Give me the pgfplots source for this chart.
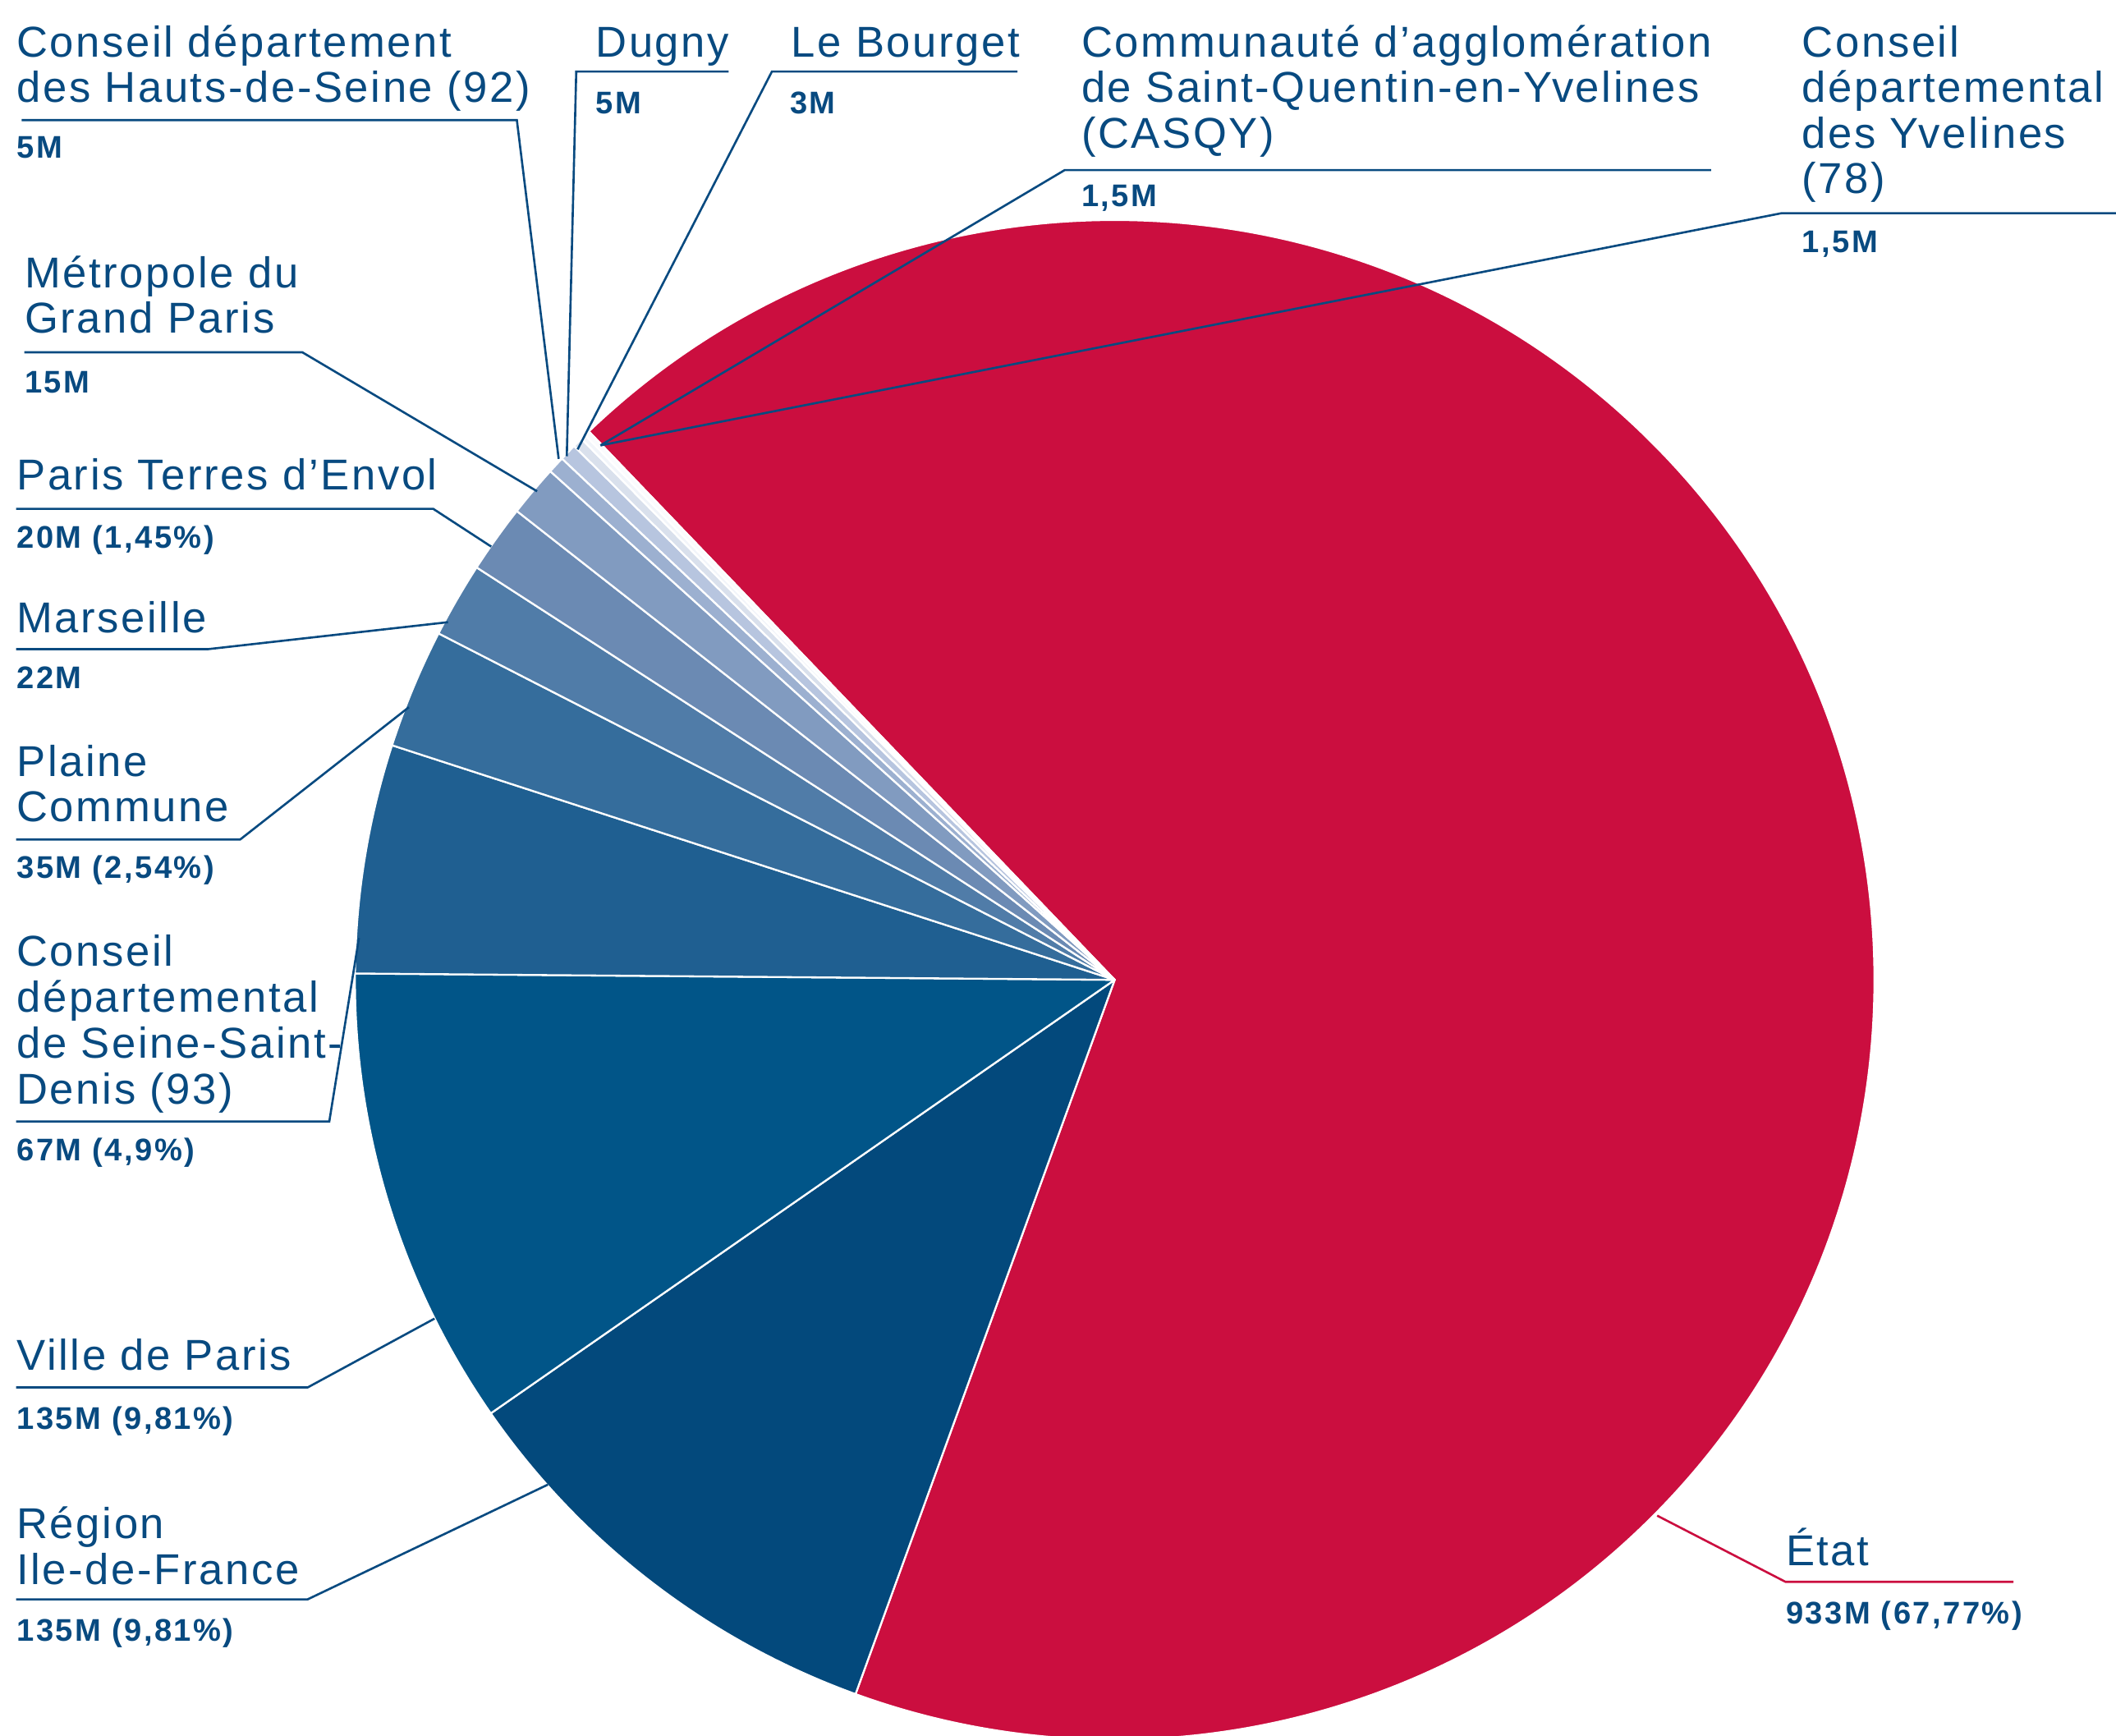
\documentclass[border=0pt]{standalone}
\usepackage{pgfplots}
\pgfplotsset{compat=1.18}
\usepackage{pgfplotstable}
\usepackage{fontspec}
\setmainfont{Liberation Sans}[LetterSpace=5]
\newfontfamily\valfam{Liberation Sans}[LetterSpace=6.5]
\definecolor{txt}{HTML}{084A80}
\definecolor{cEtat}{HTML}{CB0E3F}
\definecolor{cRegion}{HTML}{03497C}
\definecolor{cVille}{HTML}{015588}
\definecolor{cSSD}{HTML}{1F5F91}
\definecolor{cPlaine}{HTML}{356D9C}
\definecolor{cMars}{HTML}{507CA8}
\definecolor{cPTE}{HTML}{6B8AB3}
\definecolor{cMGP}{HTML}{819BC0}
\definecolor{cHDS}{HTML}{9CB0D0}
\definecolor{cDugny}{HTML}{B7C5DF}
\definecolor{cBourget}{HTML}{D9E0EC}
\definecolor{cCASQY}{HTML}{F2F5FA}
\definecolor{cYvel}{HTML}{FAFBFD}
\pgfplotstableread[col sep=comma]{
name,value,col
Etat,933,cEtat
Region,135,cRegion
Ville,135,cVille
CD93,67,cSSD
Plaine,35,cPlaine
Marseille,22,cMars
PTE,20,cPTE
MGP,15,cMGP
CD92,5,cHDS
Dugny,5,cDugny
Bourget,3,cBourget
CASQY,1.5,cCASQY
CD78,1.5,cYvel
}\pietable
\newcommand\namefont{\fontsize{16bp}{17bp}\selectfont}
\newcommand\valfont{\valfam\fontsize{11.6bp}{13bp}\selectfont\bfseries}
\newcommand\nm[3]{\node[anchor=base west, inner sep=0pt, text=txt, font=\namefont] at (axis cs:#1,#2) {#3};}
\newcommand\vl[3]{\node[anchor=base west, inner sep=0pt, text=txt, font=\valfont] at (axis cs:#1,#2) {#3};}
\begin{document}
\begin{tikzpicture}
\begin{axis}[hide axis, scale only axis, width=784bp, height=643bp,
  xmin=0, xmax=1568, ymin=0, ymax=1286, y dir=reverse, clip=true]
  \pgfplotstablegetrowsof{\pietable}
  \pgfmathtruncatemacro\nrows{\pgfplotsretval-1}
  \def\total{0}
  \pgfplotsforeachungrouped \i in {0,...,\nrows}{%
    \pgfplotstablegetelem{\i}{value}\of\pietable
    \pgfmathsetmacro\total{\total+\pgfplotsretval}}
  \def\cum{0}
  \pgfplotsforeachungrouped \i in {0,...,\nrows}{%
    \pgfplotstablegetelem{\i}{value}\of\pietable \let\sv\pgfplotsretval
    \pgfplotstablegetelem{\i}{col}\of\pietable \let\scol\pgfplotsretval
    \pgfmathsetmacro\sa{133.8-(\cum/\total)*360}
    \pgfmathsetmacro\cum{\cum+\sv}
    \pgfmathsetmacro\sb{133.8-(\cum/\total)*360}
    \edef\temp{\noexpand\fill[fill=\scol, draw=white, line width=0.7bp, line join=round] (axis cs:826,726) -- ++(\sa:281.5bp) arc[start angle=\sa, end angle=\sb, radius=281.5bp] -- cycle;}
    \temp
  }
  % leader lines
  \begin{scope}[draw=txt, line width=0.8bp]
  \draw (axis cs:16,89) -- (axis cs:383,89) -- (axis cs:414,340);
  \draw (axis cs:540,53) -- (axis cs:427,53) -- (axis cs:420,338);
  \draw (axis cs:754,53) -- (axis cs:572,53) -- (axis cs:428,333);
  \draw (axis cs:1268,126) -- (axis cs:789,126) -- (axis cs:445,330);
  \draw (axis cs:1568,158) -- (axis cs:1320,158) -- (axis cs:445,330);
  \draw (axis cs:18,261) -- (axis cs:224,261) -- (axis cs:398,364);
  \draw (axis cs:12,377) -- (axis cs:321,377) -- (axis cs:364,405);
  \draw (axis cs:12,481) -- (axis cs:154,481) -- (axis cs:332,461);
  \draw (axis cs:12,622) -- (axis cs:178,622) -- (axis cs:303,524);
  \draw (axis cs:12,831) -- (axis cs:244,831) -- (axis cs:266,695);
  \draw (axis cs:12,1028) -- (axis cs:228,1028) -- (axis cs:322,977);
  \draw (axis cs:12,1185) -- (axis cs:228,1185) -- (axis cs:406,1100);
  \end{scope}
  \draw[cEtat, line width=0.8bp] (axis cs:1492,1172) -- (axis cs:1323,1172) -- (axis cs:1228,1123);
  % labels
  \nm{12}{42}{Conseil département}
  \nm{12}{76}{des Hauts-de-Seine (92)}
  \vl{12}{117}{5M}
  \nm{441}{42}{Dugny}
  \vl{441}{84}{5M}
  \nm{586}{42}{Le Bourget}
  \vl{585}{84}{3M}
  \nm{801}{42}{Communauté d'agglomération}
  \nm{801}{76}{de Saint-Quentin-en-Yvelines}
  \nm{801}{110}{(CASQY)}
  \vl{801}{153}{1,5M}
  \nm{1335}{42}{Conseil}
  \nm{1335}{76}{départemental}
  \nm{1335}{110}{des Yvelines}
  \nm{1335}{143}{(78)}
  \vl{1335}{187}{1,5M}
  \nm{18}{213}{Métropole du}
  \nm{18}{247}{Grand Paris}
  \vl{18}{291}{15M}
  \nm{12}{363}{Paris Terres d'Envol}
  \vl{12}{406}{20M (1,45\%)}
  \nm{12}{469}{Marseille}
  \vl{12}{510}{22M}
  \nm{12}{575}{Plaine}
  \nm{12}{609}{Commune}
  \vl{12}{651}{35M (2,54\%)}
  \nm{12}{716}{Conseil}
  \nm{12}{750}{départemental}
  \nm{12}{784}{de Seine-Saint-}
  \nm{12}{818}{Denis (93)}
  \vl{12}{860}{67M (4,9\%)}
  \nm{12}{1015}{Ville de Paris}
  \vl{12}{1059}{135M (9,81\%)}
  \nm{12}{1140}{Région}
  \nm{12}{1174}{Ile-de-France}
  \vl{12}{1216}{135M (9,81\%)}
  \nm{1323}{1160}{État}
  \vl{1323}{1203}{933M (67,77\%)}
\end{axis}
\pgfresetboundingbox
\useasboundingbox (current axis.south west) rectangle (current axis.north east);
\end{tikzpicture}
\end{document}
